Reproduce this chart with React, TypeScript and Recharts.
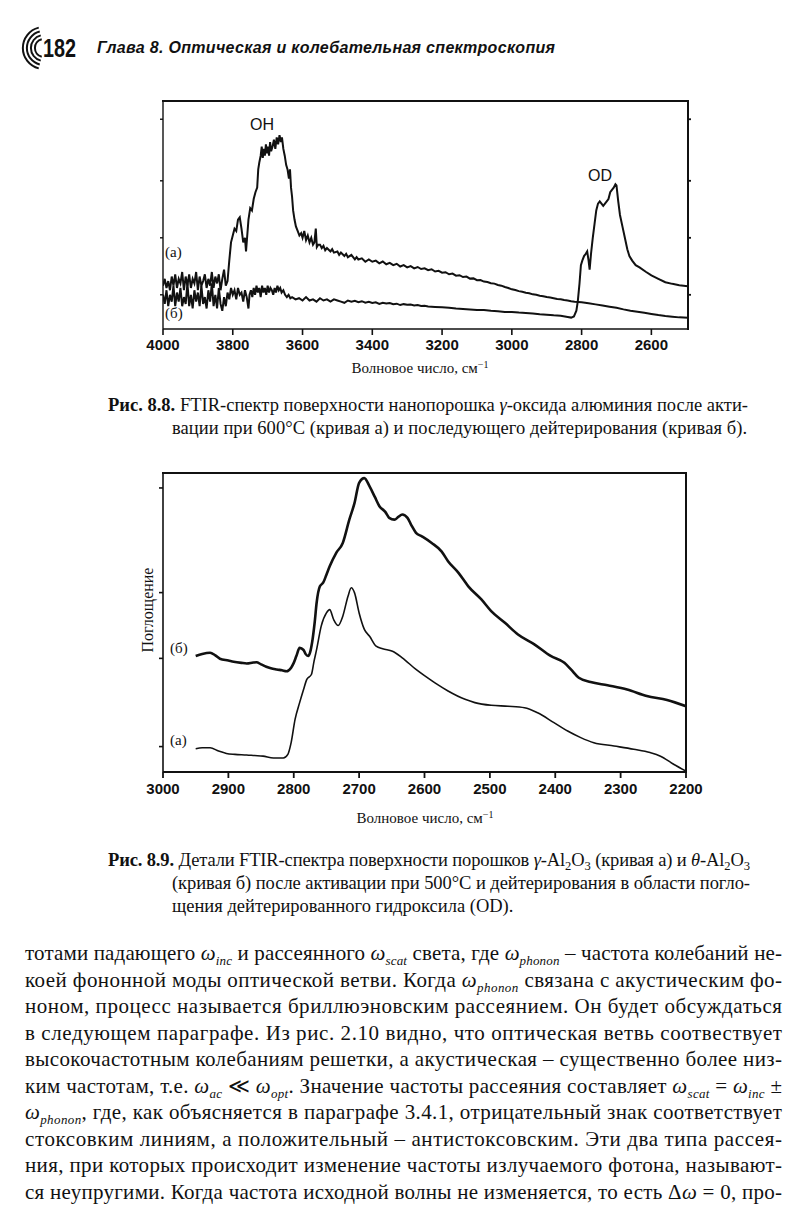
import React from "react";
import { LineChart, Line, XAxis, YAxis } from "recharts";

// Рис. 8.8 — FTIR, wavenumber (cm^-1) vs absorbance (arb. units, 0..100 of the frame)
const fig1Ticks = [4000, 3800, 3600, 3400, 3200, 3000, 2800, 2600];
const fig1Range = [2495, 4000];

const fig1CurveA: [number, number][] = [
  [4000, 19], [3995, 22], [3990, 18], [3985, 21], [3980, 17], [3975, 23], [3970, 19], [3965, 24],
  [3960, 18], [3955, 22], [3950, 20], [3945, 25], [3940, 17], [3935, 23], [3930, 19], [3925, 24],
  [3920, 18], [3915, 22], [3910, 20], [3905, 25], [3900, 17], [3895, 23], [3890, 19], [3885, 21],
  [3880, 24], [3875, 18], [3870, 22], [3865, 19], [3860, 25], [3855, 18], [3850, 23], [3845, 20],
  [3840, 24], [3835, 17], [3830, 22], [3825, 26], [3820, 19], [3815, 21],
  [3810, 30], [3805, 38], [3800, 41], [3795, 44], [3790, 43], [3785, 48], [3780, 49], [3775, 44],
  [3770, 38], [3765, 40], [3762, 34], [3758, 42], [3755, 48], [3750, 53], [3745, 52], [3740, 57],
  [3735, 60], [3730, 62], [3727, 70], [3724, 73], [3720, 76], [3717, 80], [3714, 75], [3711, 79],
  [3708, 76], [3705, 81], [3702, 77], [3699, 80], [3696, 76], [3693, 82], [3690, 78], [3686, 80],
  [3682, 83], [3678, 79], [3674, 84], [3670, 81], [3666, 85], [3662, 82], [3659, 84], [3655, 79],
  [3651, 76], [3647, 72], [3643, 70], [3639, 66], [3636, 70], [3633, 62], [3630, 58], [3627, 52],
  [3623, 48], [3619, 45], [3614, 43], [3609, 41], [3604, 42], [3600, 40], [3595, 43], [3590, 39],
  [3585, 41], [3580, 38], [3575, 40], [3570, 37], [3566, 38], [3562, 44], [3559, 36], [3555, 37],
  [3550, 37], [3545, 35.5], [3540, 36.5], [3535, 34.5], [3530, 35.5], [3520, 34], [3515, 35], [3510, 33.5],
  [3500, 34], [3495, 32.5], [3490, 33.5], [3480, 32], [3475, 33], [3470, 31.5], [3460, 32.5], [3450, 30.5],
  [3445, 31.5], [3440, 30.5], [3430, 31], [3420, 29.5], [3410, 30.5], [3400, 29.5], [3390, 30], [3380, 28.8],
  [3370, 29.6], [3360, 28.4], [3350, 29], [3340, 28], [3330, 28.6], [3320, 27.4], [3310, 28], [3300, 27],
  [3290, 27.6], [3280, 26.6], [3270, 27.2], [3260, 26.3], [3250, 26.6], [3240, 25.8], [3230, 26.2], [3220, 25.2],
  [3210, 25.5], [3200, 24.7], [3190, 24.9], [3180, 24], [3170, 24.3], [3160, 23.4], [3150, 23.6], [3140, 22.8],
  [3130, 23], [3120, 22.1], [3110, 22.2], [3100, 21.4], [3090, 21.5], [3080, 20.8], [3070, 20.6], [3060, 20.1],
  [3050, 19.9], [3040, 19.3], [3030, 19], [3020, 18.4], [3010, 18], [3000, 17.4], [2990, 17.1], [2980, 16.6],
  [2970, 16.3], [2960, 15.9], [2950, 15.7], [2940, 15.2], [2930, 15], [2920, 14.6], [2910, 14.4], [2900, 14],
  [2890, 13.8], [2880, 13.5], [2870, 13.2], [2860, 13], [2850, 12.7], [2840, 12.5], [2830, 12.2], [2820, 12],
  [2800, 11.7], [2780, 11.3], [2760, 10.8], [2740, 10.3], [2720, 9.8], [2700, 9.3], [2680, 8.6], [2660, 8],
  [2640, 7.6], [2620, 7.1], [2600, 6.6], [2580, 6.1], [2560, 5.7], [2540, 5.4], [2520, 5.1], [2495, 4.9],
];

const fig1CurveB: [number, number][] = [
  [4000, 15], [3995, 11], [3990, 17], [3985, 10], [3980, 15], [3975, 12], [3970, 19], [3965, 10],
  [3960, 16], [3955, 12], [3950, 18], [3945, 10], [3940, 14], [3935, 11], [3930, 20], [3925, 10],
  [3920, 15], [3915, 9], [3910, 17], [3905, 12], [3900, 16], [3895, 10], [3890, 19], [3885, 11],
  [3880, 14], [3875, 9], [3870, 17], [3865, 12], [3860, 20], [3855, 10], [3850, 15], [3845, 9],
  [3840, 18], [3835, 11], [3830, 8], [3825, 14], [3820, 10], [3815, 16],
  [3810, 13], [3805, 18], [3800, 15], [3795, 17], [3790, 13], [3785, 18], [3780, 15], [3775, 16],
  [3770, 12], [3765, 17], [3760, 14], [3755, 9], [3752, 15], [3748, 17], [3744, 14], [3740, 18],
  [3736, 15], [3732, 19], [3728, 16], [3724, 18], [3720, 14], [3716, 19], [3712, 16], [3708, 18],
  [3704, 15], [3700, 19], [3696, 16], [3692, 18], [3688, 17], [3684, 15], [3680, 18], [3676, 16],
  [3672, 19], [3668, 17], [3664, 18], [3660, 16], [3655, 17], [3650, 15], [3645, 14], [3640, 15],
  [3635, 13.5], [3630, 14], [3620, 13], [3610, 13.5], [3600, 12.5], [3590, 14], [3580, 12.5], [3570, 13],
  [3560, 12], [3550, 13.5], [3540, 12.5], [3530, 13], [3520, 12], [3510, 13], [3500, 12.5], [3490, 12],
  [3480, 11.5], [3470, 12.5], [3460, 12], [3450, 12.4], [3440, 11.8], [3430, 12.2], [3420, 11.5], [3410, 11.9],
  [3400, 11.4], [3390, 11.7], [3380, 11], [3370, 11.5], [3360, 11.2], [3350, 11.4], [3340, 10.9], [3330, 11.1],
  [3320, 10.5], [3310, 10.9], [3300, 10.6], [3290, 10.7], [3280, 10.3], [3270, 10.5], [3260, 10.1], [3250, 10.2],
  [3240, 9.9], [3220, 9.7], [3200, 9.5], [3180, 9.3], [3160, 9], [3140, 8.8], [3120, 8.6], [3100, 8.3],
  [3080, 8.3], [3060, 8], [3040, 7.8], [3020, 7.5], [3000, 7.5], [2980, 7.2], [2960, 7], [2940, 6.8],
  [2920, 6.5], [2900, 6.3], [2880, 6], [2860, 5.8], [2840, 5.3], [2830, 5], [2822, 5.5], [2815, 8],
  [2811, 12], [2806, 20], [2802, 28], [2798, 30], [2793, 32], [2788, 33], [2784, 34], [2780, 30],
  [2777, 26], [2773, 33], [2768, 40], [2763, 46], [2758, 52], [2753, 55], [2748, 56], [2743, 55],
  [2738, 54], [2733, 55], [2728, 56], [2723, 57], [2718, 60], [2713, 61], [2708, 62], [2703, 63.5],
  [2700, 63], [2695, 56], [2690, 50], [2683, 45], [2676, 40], [2669, 35], [2663, 32], [2655, 30],
  [2645, 28], [2634, 27], [2615, 25], [2600, 23.5], [2580, 22], [2560, 20.5], [2540, 19.8], [2520, 19.2],
  [2495, 18.8],
];

// Рис. 8.9 — detail 3000..2200 cm^-1
const fig2Ticks = [3000, 2900, 2800, 2700, 2600, 2500, 2400, 2300, 2200];
const fig2Range = [2200, 3000];

const fig2CurveB: [number, number][] = [
  [2950, 38.8], [2940, 39.5], [2928, 39.9], [2920, 39], [2913, 37.9], [2900, 37.3], [2892, 36.9], [2880, 36.5],
  [2872, 36.3], [2862, 36.6], [2857, 36.7], [2850, 36], [2842, 35.2], [2835, 34.7], [2826, 34.3], [2818, 34],
  [2811, 33.7], [2804, 34.9], [2800, 36.5], [2796, 38.8], [2791, 41.5], [2785, 40.8], [2782, 39.5], [2778, 38.8],
  [2775, 40], [2772, 43.2], [2768, 50], [2765, 56.6], [2760, 62.1], [2755, 63.3], [2750, 66], [2745, 68.8],
  [2735, 73.3], [2725, 76.6], [2715, 84.4], [2707, 90], [2700, 96.7], [2692, 98.3], [2684, 95.5], [2676, 92],
  [2669, 88.9], [2660, 87], [2654, 85], [2646, 84.4], [2640, 85.3], [2634, 86.1], [2626, 85], [2620, 82.5],
  [2613, 80], [2604, 78.8], [2589, 76.6], [2574, 73.8], [2564, 70.5], [2548, 66.6], [2533, 62.1], [2513, 57.7],
  [2498, 53.8], [2477, 49.9], [2457, 46], [2432, 42.7], [2407, 38.8], [2386, 36.5], [2376, 34.3], [2364, 31.5],
  [2346, 30.1], [2320, 29], [2290, 27.6], [2260, 25.4], [2229, 24.1], [2200, 22],
];

const fig2CurveA: [number, number][] = [
  [2950, 7.8], [2940, 8.1], [2928, 8.1], [2915, 7], [2903, 6.2], [2890, 5.9], [2872, 5.7], [2860, 5.5],
  [2847, 5.3], [2831, 4.7], [2816, 4.7], [2809, 5.9], [2804, 9.8], [2798, 17.6], [2791, 23.2], [2785, 27.6],
  [2780, 31], [2773, 32.6], [2769, 37], [2765, 41], [2758, 48.8], [2750, 53.2], [2745, 54.3], [2739, 51],
  [2732, 49], [2725, 52.1], [2717, 58.8], [2712, 61.6], [2707, 59.9], [2700, 53.2], [2692, 47.7], [2684, 45.4],
  [2674, 42.1], [2664, 41.2], [2649, 40.4], [2634, 38.2], [2613, 34.3], [2600, 32.2], [2584, 29.8], [2564, 27.1],
  [2538, 24.3], [2523, 23.2], [2498, 22.3], [2472, 22], [2447, 21.5], [2427, 19.8], [2402, 16.5], [2381, 13.7],
  [2361, 11.5], [2341, 9.8], [2310, 8.7], [2280, 7.6], [2255, 6.5], [2239, 5.3], [2219, 2.6], [2200, 0.3],
];

const toRows = (pts: [number, number][]) => pts.map(([wn, v]) => ({ wn, v }));

const SERIF = "'Liberation Serif', 'DejaVu Serif', serif";
const SANS = "'Liberation Sans', Arial, sans-serif";
const INK = "#111";
const W = 808;

// chart placement on the page; the frame around each plot is derived from the same numbers
// th = height of the (empty) top axis, rw = width of the (empty) right axis
const box1 = { top: 60, h: 320, m: { top: 40, right: 119, bottom: 21, left: 162 }, ax: 30, yw: 1, th: 1, rw: 1 };
const box2 = { top: 440, h: 400, m: { top: 32, right: 121, bottom: 38, left: 162 }, ax: 30, yw: 1, th: 1, rw: 1 };
const plotRect = (b: typeof box1) => ({
  x: b.m.left + b.yw,
  y: b.top + b.m.top + b.th,
  w: W - b.m.right - b.rw - b.m.left - b.yw,
  h: b.h - b.m.top - b.th - b.m.bottom - b.ax,
});

const tickFont = { fill: INK, fontSize: 15, fontWeight: 700, fontFamily: SANS };
const blank = () => "";

const Fig1 = () => (
  <div style={{ position: "absolute", left: 0, top: box1.top }}>
    <LineChart width={W} height={box1.h} margin={box1.m}>
      <XAxis xAxisId="b" type="number" dataKey="wn" domain={fig1Range} reversed allowDataOverflow ticks={fig1Ticks} interval={0}
        height={box1.ax} tickSize={6} tickMargin={4} stroke={INK} strokeWidth={1.6} tick={tickFont} />
      <XAxis xAxisId="t" orientation="top" type="number" dataKey="wn" domain={fig1Range} reversed allowDataOverflow
        height={box1.th} tickFormatter={blank} tickLine={false} stroke={INK} strokeWidth={1.8} />
      <YAxis yAxisId="l" type="number" domain={[0, 100]} allowDataOverflow width={box1.yw} ticks={[15, 40, 65, 92]} tickSize={3}
        tickFormatter={blank} stroke={INK} strokeWidth={1.4} />
      <YAxis yAxisId="r" orientation="right" type="number" domain={[0, 100]} allowDataOverflow width={box1.rw} ticks={[15, 40, 65, 92]}
        tickSize={3} tickFormatter={blank} stroke={INK} strokeWidth={1.8} />
      <Line xAxisId="t" yAxisId="r" data={toRows(fig1CurveB)} dataKey="v" type="linear" stroke={INK} strokeWidth={2}
        dot={false} isAnimationActive={false} />
      <Line xAxisId="b" yAxisId="l" data={toRows(fig1CurveA)} dataKey="v" type="linear" stroke={INK} strokeWidth={2}
        dot={false} isAnimationActive={false} />
    </LineChart>
  </div>
);

const Fig2 = () => (
  <div style={{ position: "absolute", left: 0, top: box2.top }}>
    <LineChart width={W} height={box2.h} margin={box2.m}>
      <XAxis xAxisId="b" type="number" dataKey="wn" domain={fig2Range} reversed allowDataOverflow ticks={fig2Ticks} interval={0}
        height={box2.ax} tickSize={6} tickMargin={5} stroke={INK} strokeWidth={1.8} tick={tickFont} />
      <XAxis xAxisId="t" orientation="top" type="number" dataKey="wn" domain={fig2Range} reversed allowDataOverflow
        height={box2.th} tickFormatter={blank} tickLine={false} stroke={INK} strokeWidth={1.8} />
      <YAxis yAxisId="l" type="number" domain={[0, 100]} allowDataOverflow width={box2.yw} ticks={[8.5, 38, 60, 95]} tickSize={4}
        tickFormatter={blank} stroke={INK} strokeWidth={1.6} />
      <YAxis yAxisId="r" orientation="right" type="number" domain={[0, 100]} allowDataOverflow width={box2.rw}
        tickFormatter={blank} tickLine={false} stroke={INK} strokeWidth={1.8} />
      <Line xAxisId="t" yAxisId="r" data={toRows(fig2CurveB)} dataKey="v" type="monotone" stroke={INK} strokeWidth={2.6}
        dot={false} isAnimationActive={false} />
      <Line xAxisId="b" yAxisId="l" data={toRows(fig2CurveA)} dataKey="v" type="monotone" stroke={INK} strokeWidth={1.6}
        dot={false} isAnimationActive={false} />
    </LineChart>
  </div>
);

// top + right edges of a plot frame, drawn as a bordered div over the chart
const FrameDiv = ({ b, t }: { b: typeof box1; t: number }) => {
  const r = plotRect(b);
  return (
    <div
      style={{
        position: "absolute",
        left: r.x - t / 2,
        top: r.y - t / 2,
        width: r.w,
        height: r.h,
        borderTop: `${t}px solid ${INK}`,
        borderRight: `${t}px solid ${INK}`,
        boxSizing: "content-box",
        pointerEvents: "none",
      }}
    />
  );
};

// subscripted omega / plain subscript for the SVG text lines
const w = (s: string) => (
  <>
    <tspan fontStyle="italic">ω</tspan>
    <tspan fontStyle="italic" fontSize="0.62em" baselineShift="-0.35em">{s}</tspan>
  </>
);
const sb = (s: string) => <tspan fontSize="0.68em" baselineShift="-0.3em">{s}</tspan>;

type LineProps = { x: number; y: number; len?: number; size: number; children: React.ReactNode };
const TLine = ({ x, y, len, size, children }: LineProps) => (
  <text x={x} y={y} fontSize={size} fontFamily={SERIF} fill={INK}
    {...(len ? { textLength: len, lengthAdjust: "spacing" } : {})}>
    {children}
  </text>
);

const bodyLines: React.ReactNode[] = [
  <>тотами падающего {w("inc")} и рассеянного {w("scat")} света, где {w("phonon")} – частота колебаний не-</>,
  <>коей фононной моды оптической ветви. Когда {w("phonon")} связана с акустическим фо-</>,
  <>ноном, процесс называется бриллюэновским рассеянием. Он будет обсуждаться</>,
  <>в следующем параграфе. Из рис. 2.10 видно, что оптическая ветвь соотвествует</>,
  <>высокочастотным колебаниям решетки, а акустическая – существенно более низ-</>,
  <>ким частотам, т.е. {w("ac")} ≪ {w("opt")}. Значение частоты рассеяния составляет {w("scat")} = {w("inc")} ±</>,
  <>{w("phonon")}, где, как объясняется в параграфе 3.4.1, отрицательный знак соответствует</>,
  <>стоксовким линиям, а положительный – антистоксовским. Эти два типа рассея-</>,
  <>ния, при которых происходит изменение частоты излучаемого фотона, называют-</>,
  <>ся неупругими. Когда частота исходной волны не изменяется, то есть Δ<tspan fontStyle="italic">ω</tspan> = 0, про-</>,
];

const Page = () => (
  <svg width={W} height={1220} style={{ position: "absolute", left: 0, top: 0, pointerEvents: "none" }}>
    {/* running head */}
    {[9, 13, 17, 21].map((r) => (
      <path key={r} d={`M ${44 - r * 0.25} ${48 - r * 0.97} A ${r} ${r} 0 0 0 ${44 - r * 0.25} ${48 + r * 0.97}`}
        fill="none" stroke={INK} strokeWidth={2} />
    ))}
    <text x={43} y={57} fontFamily={SANS} fontWeight={700} fontSize={25} fill={INK} textLength={33} lengthAdjust="spacingAndGlyphs">182</text>
    <text x={97} y={53} fontFamily={SANS} fontWeight={700} fontStyle="italic" fontSize={16} fill={INK} textLength={458} lengthAdjust="spacing">
      Глава 8. Оптическая и колебательная спектроскопия
    </text>

    {/* fig 8.8 */}
    <text x={250} y={130} fontFamily={SANS} fontSize={16} fill={INK}>OH</text>
    <text x={588} y={181} fontFamily={SANS} fontSize={16} fill={INK}>OD</text>
    <text x={165} y={257} fontFamily={SERIF} fontSize={15} fill={INK}>(а)</text>
    <text x={165} y={318} fontFamily={SERIF} fontSize={15} fill={INK}>(б)</text>
    <text x={420} y={373} textAnchor="middle" fontFamily={SERIF} fontSize={15} fill={INK}>
      Волновое число, см<tspan fontSize={10} baselineShift="super">−1</tspan>
    </text>
    <TLine x={108} y={411} len={640} size={18.5}>
      <tspan fontWeight={700}>Рис. 8.8.</tspan> FTIR-спектр поверхности нанопорошка <tspan fontStyle="italic">γ</tspan>-оксида алюминия после акти-
    </TLine>
    <TLine x={172} y={434} len={575} size={18.5}>
      вации при 600°C (кривая а) и последующего дейтерирования (кривая б).
    </TLine>

    {/* fig 8.9 */}
    <text x={0} y={0} transform="translate(153 610) rotate(-90)" textAnchor="middle" fontFamily={SERIF} fontSize={16} fill={INK}>
      Поглощение
    </text>
    <text x={170} y={653} fontFamily={SERIF} fontSize={15} fill={INK}>(б)</text>
    <text x={170} y={745} fontFamily={SERIF} fontSize={15} fill={INK}>(а)</text>
    <text x={425} y={823} textAnchor="middle" fontFamily={SERIF} fontSize={15} fill={INK}>
      Волновое число, см<tspan fontSize={10} baselineShift="super">−1</tspan>
    </text>
    <TLine x={108} y={866} len={642} size={18.5}>
      <tspan fontWeight={700}>Рис. 8.9.</tspan> Детали FTIR-спектра поверхности порошков <tspan fontStyle="italic">γ</tspan>-Al{sb("2")}O{sb("3")} (кривая а) и <tspan fontStyle="italic">θ</tspan>-Al{sb("2")}O{sb("3")}
    </TLine>
    <TLine x={172} y={889} len={578} size={18.5}>
      (кривая б) после активации при 500°C и дейтерирования в области погло-
    </TLine>
    <TLine x={172} y={912} size={18.5}>
      щения дейтерированного гидроксила (OD).
    </TLine>

    {/* body text */}
    {bodyLines.map((ln, i) => (
      <TLine key={i} x={25} y={960 + i * 26.5} len={757} size={21}>
        {ln}
      </TLine>
    ))}
  </svg>
);

export default function App() {
  return (
    <div style={{ position: "absolute", left: 0, top: 0, width: W, height: 1220, background: "#fff", overflow: "hidden" }}>
      <Fig1 />
      <Fig2 />
      <FrameDiv b={box1} t={2} />
      <FrameDiv b={box2} t={2} />
      <Page />
    </div>
  );
}
